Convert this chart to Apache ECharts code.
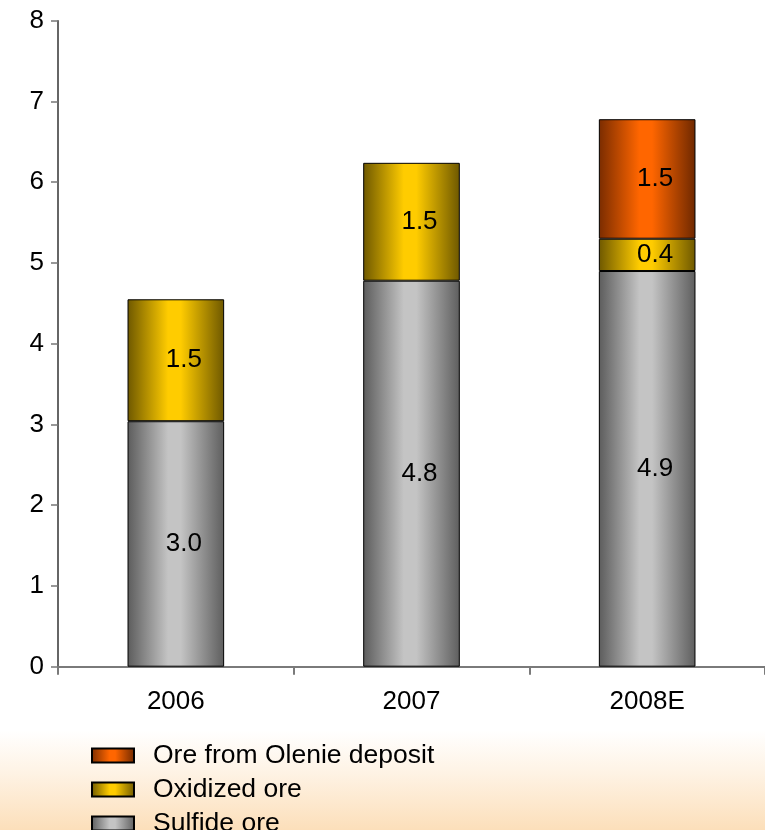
<!DOCTYPE html>
<html>
<head>
<meta charset="utf-8">
<script src="https://cdn.jsdelivr.net/npm/echarts@6/dist/echarts.min.js"></script>
<style>
  html, body { margin: 0; padding: 0; }
  body {
    width: 765px; height: 830px; overflow: hidden;
    background: linear-gradient(to bottom, #ffffff 0%, #ffffff 88%, #fef3e5 93%, #fcdfba 100%);
  }
  #chart { width: 765px; height: 830px; }
</style>
</head>
<body>
<div id="chart"></div>
<script>
// Ore processed by type, million tonnes
const years = ['2006', '2007', '2008E'];
const sulfideOre = [3.04, 4.78, 4.90];
const oxidizedOre = [1.51, 1.46, 0.40];
const olenieOre = [null, null, 1.48];
const yTicks = { min: 0, max: 8, step: 1 };

const FONT = '"Liberation Sans", Arial, sans-serif';

// Horizontal shading: dark edges, highlight just left of centre
function shade(dark, light, darkRight) {
  return new echarts.graphic.LinearGradient(0, 0, 1, 0, [
    { offset: 0, color: dark },
    { offset: 0.42, color: light },
    { offset: 0.55, color: light },
    { offset: 1, color: darkRight }
  ]);
}

const labelStyle = {
  show: true,
  position: 'inside',
  offset: [8, 0],
  color: '#000',
  fontFamily: FONT,
  fontSize: 26,
  formatter: p => (p.value == null ? '' : Number(p.value).toFixed(1))
};

const common = {
  type: 'bar',
  stack: 'ore',
  barWidth: '41%',
  label: labelStyle,
  emphasis: { disabled: true }
};

const chart = echarts.init(document.getElementById('chart'), null, { renderer: 'canvas' });
chart.setOption({
  backgroundColor: 'transparent',
  animation: false,
  grid: { left: 58, top: 20.7, width: 711, height: 646 },
  legend: {
    orient: 'vertical',
    left: 91,
    top: 742,
    height: 200,
    padding: 0,
    itemWidth: 42,
    itemHeight: 14,
    itemGap: 7,
    icon: 'rect',
    data: ['Ore from Olenie deposit', 'Oxidized ore', 'Sulfide ore'],
    textStyle: { fontFamily: FONT, fontSize: 26.5, color: '#000', padding: [0, 0, 0, 14] },
    selectedMode: false
  },
  xAxis: {
    type: 'category',
    data: years,
    axisLine: { lineStyle: { color: '#7a7a7a', width: 2 } },
    axisTick: { show: true, length: 8, lineStyle: { color: '#7a7a7a', width: 2 } },
    axisLabel: { margin: 22, color: '#000', fontFamily: FONT, fontSize: 26 },
    splitLine: { show: false }
  },
  yAxis: {
    type: 'value',
    min: yTicks.min,
    max: yTicks.max,
    interval: yTicks.step,
    axisLine: { show: true, lineStyle: { color: '#333', width: 1.5 } },
    axisTick: { show: true, length: 7, lineStyle: { color: '#777', width: 1.5 } },
    axisLabel: { margin: 14, color: '#000', fontFamily: FONT, fontSize: 26 },
    splitLine: { show: false }
  },
  series: [
    Object.assign({}, common, {
      name: 'Sulfide ore',
      data: sulfideOre,
      itemStyle: { color: shade('#5c5c5c', '#c4c4c4', '#5e5e5e'), borderColor: '#000', borderWidth: 1 }
    }),
    Object.assign({}, common, {
      name: 'Oxidized ore',
      data: oxidizedOre,
      itemStyle: { color: shade('#6e5800', '#ffcc00', '#6e5800'), borderColor: '#000', borderWidth: 1 }
    }),
    Object.assign({}, common, {
      name: 'Ore from Olenie deposit',
      data: olenieOre,
      itemStyle: { color: shade('#7a2c00', '#ff6600', '#6e2800'), borderColor: '#000', borderWidth: 1 }
    })
  ]
});
</script>
</body>
</html>
